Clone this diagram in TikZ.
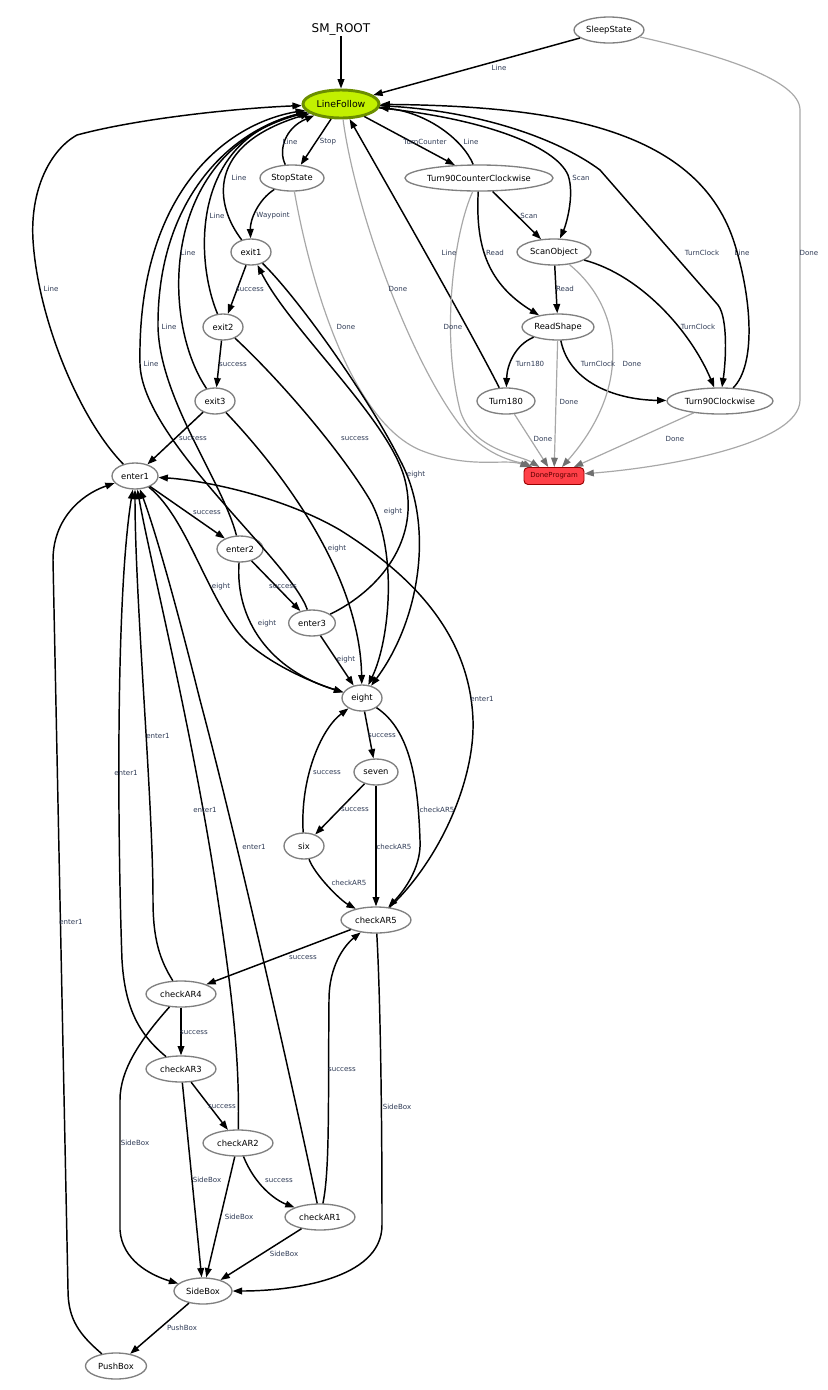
\documentclass[tikz,border=0pt]{standalone}
\usepackage{fontspec}
\setmainfont{DejaVu Sans}
\usetikzlibrary{arrows.meta,shapes.geometric}
\definecolor{lfFill}{HTML}{C2F000}
\definecolor{lfLine}{HTML}{6B8E00}
\definecolor{stLine}{HTML}{808080}
\definecolor{doneFill}{HTML}{FF4048}
\definecolor{doneLine}{HTML}{9A0000}
\definecolor{doneText}{HTML}{5A0000}
\definecolor{lblText}{HTML}{2E3A55}
\definecolor{doneEdge}{HTML}{A8A8A8}
\definecolor{doneTip}{HTML}{707070}
\tikzset{
  st/.style={ellipse, draw=stLine, line width=1pt, inner sep=0pt, minimum height=19.5pt,
    font=\fontsize{6.3}{7}\selectfont},
  trans/.style={draw=black, line width=1.1pt, -{Triangle[length=7pt,width=5pt]}},
  transdone/.style={draw=doneEdge, line width=0.9pt, -{Triangle[length=7pt,width=5pt,color=doneTip]}},
  lbl/.style={font=\fontsize{5.3}{6}\selectfont, text=lblText, inner sep=0pt},
}
\begin{document}
\begin{tikzpicture}[x=0.75pt,y=-0.75pt]
        \useasboundingbox (0,0) rectangle (828,1390);

        % States
        \node[font=\fontsize{9}{10}\selectfont, inner sep=1pt] (root) at (341,29) {SM\_ROOT};
        \node[st, draw=lfLine, fill=lfFill, line width=2.2pt, minimum width=57pt, minimum height=21pt,
          font=\fontsize{7}{8}\selectfont] (LineFollow) at (341,104) {LineFollow};
        \node[st, minimum width=52.5pt] (SleepState) at (609,30) {SleepState};
        \node[st, minimum width=48pt] (StopState) at (292,178) {StopState};
        \node[st, minimum width=111pt] (Turn90CounterClockwise) at (479,178) {Turn90CounterClockwise};
        \node[st, minimum width=30pt] (exit1) at (251,252) {exit1};
        \node[st, minimum width=55.5pt] (ScanObject) at (554,252) {ScanObject};
        \node[st, minimum width=30pt] (exit2) at (223,327) {exit2};
        \node[st, minimum width=54pt] (ReadShape) at (558,327) {ReadShape};
        \node[st, minimum width=30pt] (exit3) at (215,401) {exit3};
        \node[st, minimum width=43.5pt] (Turn180) at (506,401) {Turn180};
        \node[st, minimum width=79.5pt] (Turn90Clockwise) at (720,401) {Turn90Clockwise};
        \node[st, minimum width=34.5pt] (enter1) at (135,476) {enter1};
        \node[rectangle, rounded corners=3pt, draw=doneLine, fill=doneFill, line width=0.7pt,
          minimum width=45pt, minimum height=12.75pt, inner sep=0pt,
          font=\fontsize{5.2}{6}\selectfont, text=doneText] (DoneProgram) at (554,476) {DoneProgram};
        \node[st, minimum width=34.5pt] (enter2) at (240,549) {enter2};
        \node[st, minimum width=35pt] (enter3) at (312,623) {enter3};
        \node[st, minimum width=30pt] (eight) at (362,698) {eight};
        \node[st, minimum width=33pt] (seven) at (376,772) {seven};
        \node[st, minimum width=30pt] (six) at (304,846) {six};
        \node[st, minimum width=52.5pt] (checkAR5) at (376,920) {checkAR5};
        \node[st, minimum width=52.5pt] (checkAR4) at (181,994) {checkAR4};
        \node[st, minimum width=52.5pt] (checkAR3) at (181,1069) {checkAR3};
        \node[st, minimum width=52.5pt] (checkAR2) at (238,1143) {checkAR2};
        \node[st, minimum width=52.5pt] (checkAR1) at (320,1217) {checkAR1};
        \node[st, minimum width=43.5pt] (SideBox) at (203,1291) {SideBox};
        \node[st, minimum width=45.75pt] (PushBox) at (116,1366) {PushBox};

        % Drawing transitions into LineFollow
        \draw[trans] (root) -- (LineFollow);
        \draw[trans] (SleepState) -- (LineFollow);
        \draw[trans] (StopState) .. controls (278,150) and (285,128) .. (LineFollow);
        \draw[trans] (Turn90CounterClockwise) .. controls (462,138) and (425,112) .. (LineFollow);
        \draw[trans] (Turn180) .. controls (470,330) and (390,190) .. (LineFollow);
        \draw[trans] (Turn90Clockwise) .. controls (756,365) and (752,300) .. (735,245)
          .. controls (700,130) and (560,106) .. (LineFollow);
        \draw[trans] (exit1) .. controls (215,205) and (205,145) .. (LineFollow);
        \draw[trans] (exit2) .. controls (195,260) and (190,140) .. (LineFollow);
        \draw[trans] (exit3) .. controls (160,320) and (160,150) .. (LineFollow);
        \draw[trans] (enter2) .. controls (222,480) and (160,400) .. (158,327)
          .. controls (157,200) and (230,130) .. (LineFollow);
        \draw[trans] (enter3) .. controls (290,560) and (142,440) .. (140,364)
          .. controls (137,200) and (220,125) .. (LineFollow);
        \draw[trans] (enter1) .. controls (80,420) and (38,320) .. (33,240)
          .. controls (30,190) and (50,150) .. (77,135) .. controls (140,118) and (240,108) .. (LineFollow);

        % Drawing transitions out of LineFollow
        \draw[trans] (LineFollow) -- (StopState);
        \draw[trans] (LineFollow) -- (Turn90CounterClockwise);
        \draw[trans] (LineFollow) .. controls (480,118) and (555,145) .. (568,175)
          .. controls (575,195) and (566,225) .. (ScanObject);
        \draw[trans] (LineFollow) .. controls (480,110) and (560,140) .. (600,170) -- (718,305)
          .. controls (728,318) and (726,360) .. (Turn90Clockwise);

        % Drawing the turning states
        \draw[trans] (StopState) .. controls (258,200) and (250,220) .. (exit1);
        \draw[trans] (Turn90CounterClockwise) -- (ScanObject);
        \draw[trans] (Turn90CounterClockwise) .. controls (475,250) and (490,285) .. (ReadShape);
        \draw[trans] (ScanObject) -- (ReadShape);
        \draw[trans] (ScanObject) .. controls (640,275) and (690,330) .. (Turn90Clockwise);
        \draw[trans] (ReadShape) .. controls (515,345) and (507,365) .. (Turn180);
        \draw[trans] (ReadShape) .. controls (570,385) and (620,400) .. (Turn90Clockwise);

        % Drawing transitions into DoneProgram
        \draw[transdone] (LineFollow) .. controls (355,210) and (410,360) .. (460,425)
          .. controls (490,460) and (520,462) .. (DoneProgram);
        \draw[transdone] (StopState) .. controls (310,280) and (350,420) .. (420,450)
          .. controls (470,470) and (505,458) .. (DoneProgram);
        \draw[transdone] (Turn90CounterClockwise) .. controls (455,230) and (440,330) .. (460,410)
          .. controls (472,450) and (520,455) .. (DoneProgram);
        \draw[transdone] (ScanObject) .. controls (625,310) and (630,390) .. (DoneProgram);
        \draw[transdone] (ReadShape) -- (DoneProgram);
        \draw[transdone] (Turn180) -- (DoneProgram);
        \draw[transdone] (Turn90Clockwise) -- (DoneProgram);
        \draw[transdone] (SleepState) .. controls (720,55) and (800,80) .. (800,110) -- (800,400)
          .. controls (800,445) and (660,468) .. (DoneProgram);

        % Drawing the exit / enter loop
        \draw[trans] (exit1) -- (exit2);
        \draw[trans] (exit2) -- (exit3);
        \draw[trans] (exit3) -- (enter1);
        \draw[trans] (enter1) -- (enter2);
        \draw[trans] (enter2) -- (enter3);
        \draw[trans] (enter3) .. controls (380,590) and (420,540) .. (405,480)
          .. controls (390,420) and (290,330) .. (exit1);

        % Drawing transitions into eight
        \draw[trans] (exit1) .. controls (300,300) and (370,400) .. (400,460)
          .. controls (435,525) and (420,620) .. (eight);
        \draw[trans] (exit2) .. controls (280,380) and (340,450) .. (370,500)
          .. controls (398,550) and (390,640) .. (eight);
        \draw[trans] (exit3) .. controls (290,480) and (360,580) .. (eight);
        \draw[trans] (enter1) .. controls (190,520) and (210,610) .. (250,645)
          .. controls (280,670) and (320,685) .. (eight);
        \draw[trans] (enter2) .. controls (235,620) and (270,670) .. (eight);
        \draw[trans] (enter3) -- (eight);
        \draw[trans] (six) .. controls (300,780) and (320,730) .. (eight);

        % Drawing the counting states
        \draw[trans] (eight) -- (seven);
        \draw[trans] (seven) -- (six);
        \draw[trans] (eight) .. controls (410,730) and (418,780) .. (420,840)
          .. controls (422,870) and (400,895) .. (checkAR5);
        \draw[trans] (seven) -- (checkAR5);
        \draw[trans] (six) .. controls (315,875) and (340,900) .. (checkAR5);
        \draw[trans] (checkAR5) .. controls (440,860) and (475,780) .. (473,720)
          .. controls (470,640) and (420,580) .. (340,530) .. controls (280,495) and (200,480) .. (enter1);

        % Drawing the checkAR chain
        \draw[trans] (checkAR5) -- (checkAR4);
        \draw[trans] (checkAR4) -- (checkAR3);
        \draw[trans] (checkAR3) -- (checkAR2);
        \draw[trans] (checkAR2) .. controls (255,1185) and (275,1200) .. (checkAR1);
        \draw[trans] (checkAR1) .. controls (330,1170) and (328,1100) .. (329,1000)
          .. controls (329,965) and (345,945) .. (checkAR5);

        % Drawing transitions back to enter1
        \draw[trans] (checkAR4) .. controls (160,960) and (153,940) .. (153,900)
          .. controls (153,800) and (135,600) .. (enter1);
        \draw[trans] (checkAR3) .. controls (140,1035) and (125,1010) .. (122,960)
          .. controls (118,850) and (115,600) .. (enter1);
        \draw[trans] (checkAR2) .. controls (240,1050) and (230,980) .. (215,880)
          .. controls (190,720) and (150,560) .. (enter1);
        \draw[trans] (checkAR1) .. controls (300,1120) and (240,850) .. (200,700)
          .. controls (175,600) and (155,530) .. (enter1);
        \draw[trans] (PushBox) .. controls (80,1335) and (68,1320) .. (68,1290) -- (53,560)
          .. controls (53,520) and (80,495) .. (enter1);

        % Drawing transitions into SideBox
        \draw[trans] (checkAR5) .. controls (380,990) and (382,1100) .. (382,1225)
          .. controls (382,1280) and (290,1291) .. (SideBox);
        \draw[trans] (checkAR4) .. controls (140,1040) and (120,1070) .. (120,1100) -- (120,1230)
          .. controls (122,1260) and (150,1275) .. (SideBox);
        \draw[trans] (checkAR3) -- (SideBox);
        \draw[trans] (checkAR2) -- (SideBox);
        \draw[trans] (checkAR1) -- (SideBox);
        \draw[trans] (SideBox) -- (PushBox);

        % Transition labels
        \foreach \lx/\ly/\lt [count=\i] in {
          499/68/Line, 290/142/Line, 328/142/Stop, 425/142/TurnCounter, 471/142/Line,
          581/178/Scan, 239/178/Line, 273/216/Waypoint, 217/216/Line, 529/216/Scan,
          51/289/Line, 188/253/Line, 169/327/Line, 151/364/Line,
          250/290/success, 233/365/success, 193/439/success, 355/439/success,
          346/327/Done, 398/289/Done, 449/253/Line, 495/253/Read, 702/253/TurnClock,
          742/253/Line, 809/253/Done, 565/289/Read, 453/327/Done, 698/327/TurnClock,
          530/364/Turn180, 598/364/TurnClock, 632/364/Done, 569/402/Done,
          543/439/Done, 675/439/Done,
          207/513/success, 416/475/eight, 393/512/eight, 337/549/eight, 221/587/eight,
          283/587/success, 267/624/eight, 346/660/eight, 482/699/enter1,
          382/736/success, 327/773/success, 355/810/success,
          437/810/checkAR5, 394/847/checkAR5, 349/883/checkAR5,
          158/736/enter1, 126/773/enter1, 205/810/enter1, 254/847/enter1, 71/922/enter1,
          303/958/success, 194/1033/success, 222/1107/success, 135/1143/SideBox,
          207/1180/SideBox, 279/1181/success, 239/1217/SideBox, 284/1254/SideBox,
          182/1328/PushBox, 342/1070/success, 397/1107/SideBox}
          \node[lbl] (lbl\i) at (\lx,\ly) {\lt};
\end{tikzpicture}
\end{document}
